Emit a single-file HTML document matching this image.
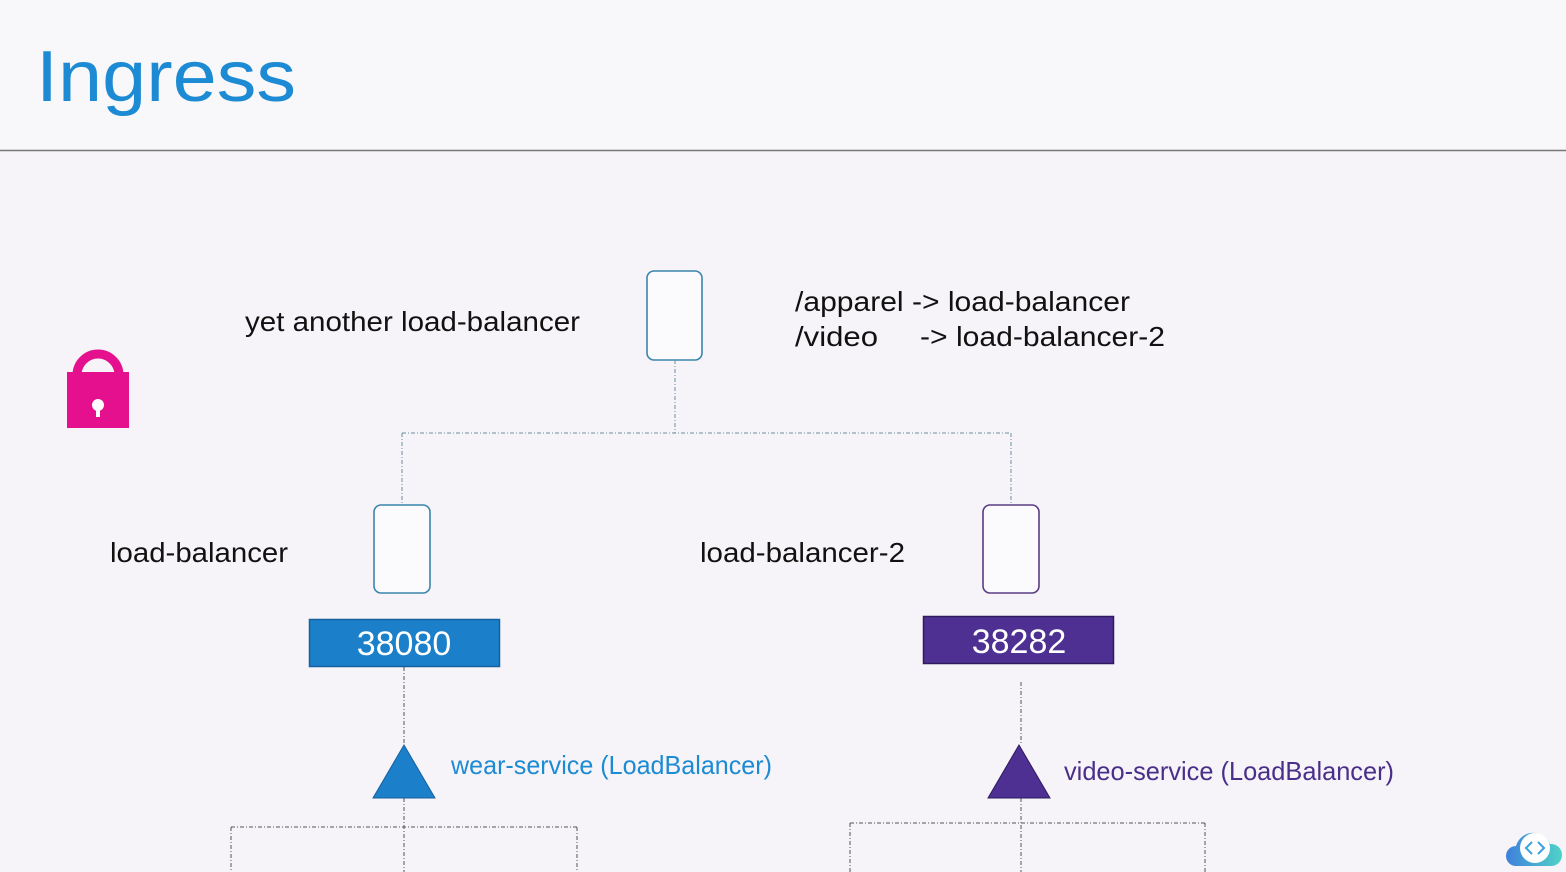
<!DOCTYPE html>
<html><head><meta charset="utf-8"><style>
html,body{margin:0;padding:0;background:#f6f4f8;}
svg{display:block}
</style></head><body>
<svg width="1566" height="872" viewBox="0 0 1566 872" xmlns="http://www.w3.org/2000/svg" font-family="Liberation Sans, sans-serif">
<rect width="1566" height="872" fill="#f6f4f8"/>
<rect width="1566" height="150" fill="#f8f7f9"/>
<line x1="0" y1="150.5" x2="1566" y2="150.5" stroke="#777" stroke-width="1.5"/>
<text x="36" y="101" font-size="72" fill="#1d8bd3" textLength="260" lengthAdjust="spacingAndGlyphs">Ingress</text>

<!-- lock -->
<path d="M77 376 V375 a21 21 0 0 1 42 0 V376" fill="none" stroke="#e5108e" stroke-width="9"/>
<rect x="67" y="372" width="62" height="56" fill="#e5108e"/>
<circle cx="98" cy="405" r="6" fill="#fff"/>
<rect x="96" y="407" width="4" height="10" fill="#fff"/>

<g font-size="28" fill="#111">
<text x="245" y="331" textLength="335" lengthAdjust="spacingAndGlyphs">yet another load-balancer</text>
<text x="795" y="311" textLength="335" lengthAdjust="spacingAndGlyphs">/apparel -&gt; load-balancer</text>
<text x="795" y="346" textLength="83" lengthAdjust="spacingAndGlyphs">/video</text>
<text x="920" y="346" textLength="245" lengthAdjust="spacingAndGlyphs">-&gt; load-balancer-2</text>
<text x="110" y="562" textLength="178" lengthAdjust="spacingAndGlyphs">load-balancer</text>
<text x="700" y="562" textLength="205" lengthAdjust="spacingAndGlyphs">load-balancer-2</text>
</g>

<!-- nodes -->
<rect x="647" y="271" width="55" height="89" rx="7" fill="#fbfafc" stroke="#3a86ad" stroke-width="1.6"/>
<rect x="374" y="505" width="56" height="88" rx="7" fill="#fbfafc" stroke="#3a86ad" stroke-width="1.6"/>
<rect x="983" y="505" width="56" height="88" rx="7" fill="#fbfafc" stroke="#5a3c85" stroke-width="1.6"/>

<!-- connectors -->
<g stroke="#6a8f9f" stroke-width="1" stroke-dasharray="4,2,1,2" fill="none">
<line x1="675" y1="360" x2="675" y2="433"/>
<line x1="402" y1="433" x2="1011" y2="433"/>
<line x1="402" y1="433" x2="402" y2="505"/>
<line x1="1011" y1="433" x2="1011" y2="505"/>
</g>
<g stroke="#555" stroke-width="1" stroke-dasharray="4,2,1,2" fill="none">
<line x1="404" y1="667" x2="404" y2="745"/>
<line x1="404" y1="798" x2="404" y2="872"/>
<line x1="231" y1="827" x2="577" y2="827"/>
<line x1="231" y1="827" x2="231" y2="872"/>
<line x1="577" y1="827" x2="577" y2="872"/>
<line x1="1021" y1="682" x2="1021" y2="745"/>
<line x1="1021" y1="798" x2="1021" y2="872"/>
<line x1="850" y1="823" x2="1205" y2="823"/>
<line x1="850" y1="823" x2="850" y2="872"/>
<line x1="1205" y1="823" x2="1205" y2="872"/>
</g>

<!-- ports -->
<rect x="309.5" y="619.5" width="190" height="47" fill="#1c7fc9" stroke="#1560a0" stroke-width="1.5"/>
<text x="404" y="655" font-size="34" fill="#fff" text-anchor="middle">38080</text>
<rect x="923.5" y="616.5" width="190" height="47" fill="#4e2f92" stroke="#2e1a60" stroke-width="1.5"/>
<text x="1019" y="653" font-size="34" fill="#fff" text-anchor="middle">38282</text>

<!-- triangles -->
<polygon points="404,745 435,798 373,798" fill="#1c7fc9" stroke="#1560a0" stroke-width="1"/>
<polygon points="1019,745 1050,798 988,798" fill="#4e2f92" stroke="#2e1a60" stroke-width="1"/>
<text x="451" y="774" font-size="26" fill="#1d8bd3" textLength="321" lengthAdjust="spacingAndGlyphs">wear-service (LoadBalancer)</text>
<text x="1064" y="780" font-size="26" fill="#4a2f8a" textLength="330" lengthAdjust="spacingAndGlyphs">video-service (LoadBalancer)</text>

<!-- cloud badge -->
<defs><linearGradient id="g" x1="0" x2="1"><stop offset="0" stop-color="#3f7fdc"/><stop offset="1" stop-color="#4fd3c8"/></linearGradient></defs>
<path d="M1516 866 a10 10 0 0 1 0-20 a18 18 0 0 1 34-2 a11 11 0 0 1 2 22 z" fill="url(#g)"/>
<circle cx="1535" cy="848" r="15" fill="#fff"/>
<path d="M1532 842 l-6 6 l6 6 M1538 842 l6 6 l-6 6" fill="none" stroke="#3fa0e0" stroke-width="2"/>
</svg>
</body></html>
